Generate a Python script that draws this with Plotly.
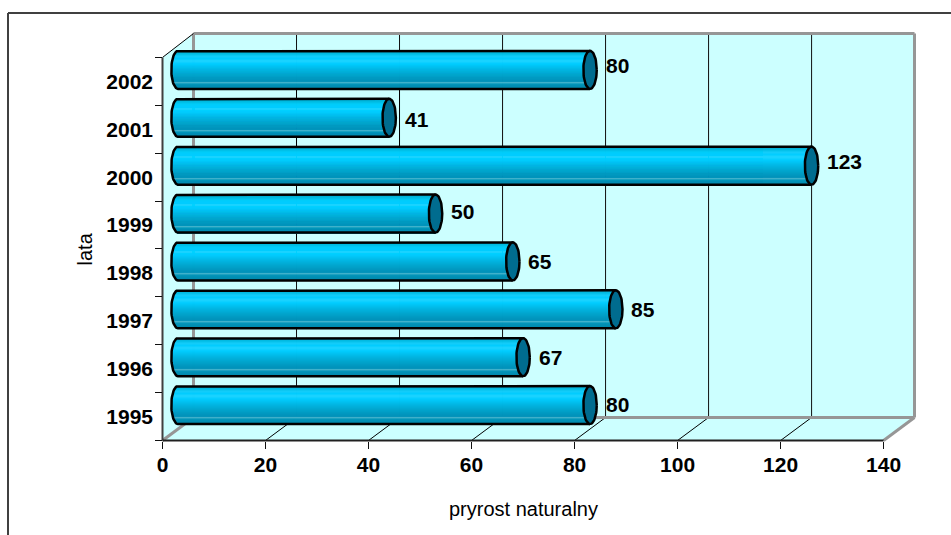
import numpy as np
import plotly.graph_objects as go

# Natural increase per year
years = ["1995", "1996", "1997", "1998", "1999", "2000", "2001", "2002"]
values = [80, 67, 85, 65, 50, 123, 41, 80]
label_lift = [1, 0, 0, 0, 2, 4, -1.5, 4.5]
x_ticks = [0, 20, 40, 60, 80, 100, 120, 140]

W, H = 951, 535
PX_PER_X = 5.15
PX_PER_Y = 47.875
X_MAX = 146.0
DX = 31 / PX_PER_X      # depth of the pseudo-3D box, x units
DY = 23 / PX_PER_Y      # depth of the pseudo-3D box, y units
BAR_H = 38 / PX_PER_Y
CAP_RX = 6.7 / PX_PER_X
PAD = 4                 # spare pixels around the box so its edge lines are not clipped
SNAP_X = 0.5            # half-pixel nudges that keep one-pixel lines sharp
SNAP_Y = -0.5
WALL = "#CCFFFF"
EDGE = "#969696"
INK = "#000000"

# Vertical shading of the cylinders, top to bottom
shade_t = [0.0, 0.08, 0.14, 0.20, 0.26, 0.34, 0.50, 0.62, 0.74, 0.80, 0.83, 0.87, 1.0]
shade_rgb = [
    (10, 165, 200), (0, 190, 230), (20, 205, 250), (0, 204, 255), (30, 212, 255),
    (0, 204, 255), (0, 180, 225), (0, 165, 205), (0, 150, 190), (0, 145, 185),
    (70, 180, 205), (0, 148, 185), (0, 135, 170),
]


def shade(t):
    return "rgb(%d,%d,%d)" % tuple(
        int(round(np.interp(t, shade_t, [c[k] for c in shade_rgb]))) for k in range(3)
    )


def line(x0, y0, x1, y1, color, width):
    return dict(type="line", xref="x", yref="y", x0=x0, y0=y0, x1=x1, y1=y1,
                layer="below", line=dict(color=color, width=width))


def frame_line(x0, y0, x1, y1):
    return dict(type="line", xref="paper", yref="paper", x0=x0 / W, x1=x1 / W,
                y0=1 - y0 / H, y1=1 - y1 / H, layer="below",
                line=dict(color="#404040", width=2))


y_floor = -0.5
y_back = y_floor + DY
y_top = 8.0
y_front_top = 7.5

shapes = [
    # Walls and floor of the box
    dict(type="path", xref="x", yref="y", layer="below", line=dict(width=0), fillcolor=WALL,
         path=f"M0,{y_floor} L140,{y_floor} L{X_MAX},{y_back} L{X_MAX},{y_top} "
              f"L{DX},{y_top} L0,{y_front_top} Z"),
]
# Floor diagonals and back-wall gridlines
for v in x_ticks[1:-1]:
    shapes.append(line(v, y_floor, v + DX, y_back, "#000000", 1))
    shapes.append(line(v + DX, y_back, v + DX, y_top, "#101010", 1))
shapes += [
    line(DX, y_back, DX, y_top, EDGE, 3),
    line(DX, y_top, X_MAX, y_top, EDGE, 3),
    line(X_MAX, y_back, X_MAX, y_top, EDGE, 3),
    line(DX, y_back, X_MAX, y_back, EDGE, 3),
    line(0, y_floor, DX, y_back, EDGE, 3),
    line(140, y_floor, X_MAX, y_back, EDGE, 3),
    line(0, y_front_top, DX, y_top, "#000000", 1),
    line(0, y_floor, 0, y_front_top, "#404040", 2),
    line(0, y_floor, 140, y_floor, "#202020", 2),
    # Outer frame, running off the page on the right and bottom
    frame_line(8, 13, W, 13),
    frame_line(8, 13, 8, H),
]

fig = go.Figure()
positions = list(range(len(years)))
bar_y = [p + DY / 2 for p in positions]

# Each cylinder body is a stack of one-pixel bars with the rounded left end in its base
N = 38
strip_h = BAR_H / N
for k in range(N):
    t = (k + 0.5) / N
    u = 2 * t - 1
    bulge = CAP_RX * np.sqrt(max(0.0, 1 - u * u))
    fig.add_trace(go.Bar(
        orientation="h",
        y=bar_y,
        x=[v + bulge for v in values],
        base=DX / 2 - bulge,
        width=strip_h * 1.05,
        offset=BAR_H / 2 - (k + 1) * strip_h,
        marker=dict(color=shade(t), line=dict(width=0)),
        opacity=0.92,
        hoverinfo="skip",
        showlegend=False,
    ))

theta = np.linspace(0, 2 * np.pi, 61)
half = np.linspace(np.pi / 2, 3 * np.pi / 2, 31)
for v, y in zip(values, bar_y):
    xc = v + DX / 2
    # Body outline: top edge, rounded left end, bottom edge
    fig.add_trace(go.Scatter(
        x=[xc] + list(DX / 2 + CAP_RX * np.cos(half)) + [xc],
        y=[y + BAR_H / 2] + list(y + BAR_H / 2 * np.sin(half)) + [y - BAR_H / 2],
        mode="lines", line=dict(color=INK, width=2.5),
        hoverinfo="skip", showlegend=False,
    ))
    # End cap
    fig.add_trace(go.Scatter(
        x=xc + CAP_RX * np.cos(theta),
        y=y + BAR_H / 2 * np.sin(theta),
        mode="lines", fill="toself", fillcolor="#006C8F",
        line=dict(color=INK, width=2.5),
        hoverinfo="skip", showlegend=False,
    ))

annotations = [
    dict(x=v + DX / 2, y=y, xref="x", yref="y", text=str(v), showarrow=False,
         xanchor="left", xshift=13.5, yshift=lift,
         font=dict(family="Liberation Sans", size=21, color="#000000", weight="bold"))
    for v, y, lift in zip(values, bar_y, label_lift)
]
annotations += [
    dict(x=70, y=y_floor, xref="x", yref="y", text="pryrost naturalny", showarrow=False,
         xanchor="center", yanchor="middle", yshift=-68,
         font=dict(family="Liberation Sans", size=20, color="#000000")),
    dict(x=0, y=3.5, xref="x", yref="y", text="lata", showarrow=False, textangle=-90,
         xanchor="center", yanchor="middle", xshift=-78,
         font=dict(family="Liberation Sans", size=20, color="#000000")),
]

fig.update_layout(
    width=W, height=H, autosize=False,
    margin=dict(l=0, r=0, t=0, b=0, autoexpand=False),
    paper_bgcolor="#FFFFFF", plot_bgcolor="rgba(0,0,0,0)",
    barmode="overlay", bargap=0,
    showlegend=False,
    shapes=shapes, annotations=annotations,
    xaxis=dict(
        domain=[(162 + SNAP_X - PAD) / W, (914 + SNAP_X + PAD) / W],
        range=[-PAD / PX_PER_X, X_MAX + PAD / PX_PER_X],
        anchor="free", position=1 - 441 / H,
        tickmode="array", tickvals=x_ticks, ticktext=[str(v) for v in x_ticks],
        ticks="outside", ticklen=7, tickwidth=1, tickcolor="#101010",
        ticklabelstandoff=-2,
        showgrid=False, zeroline=False, showline=False,
        tickfont=dict(family="Liberation Sans", size=21, color="#000000", weight="bold"),
    ),
    yaxis=dict(
        domain=[1 - (441 + SNAP_Y + PAD) / H, 1 - (34 + SNAP_Y - PAD) / H],
        range=[y_floor - PAD / PX_PER_Y, y_top + PAD / PX_PER_Y],
        anchor="free", position=162 / W,
        tickmode="array", tickvals=positions, ticktext=years,
        ticks="", ticklabelstandoff=9,
        minor=dict(tickmode="array", tickvals=[p - 0.5 for p in positions] + [7.5],
                   ticks="outside", ticklen=7, tickwidth=1, tickcolor="#101010", showgrid=False),
        showgrid=False, zeroline=False, showline=False,
        tickfont=dict(family="Liberation Sans", size=21, color="#000000", weight="bold"),
    ),
)

fig.write_html("out.html", config={"displayModeBar": False})
